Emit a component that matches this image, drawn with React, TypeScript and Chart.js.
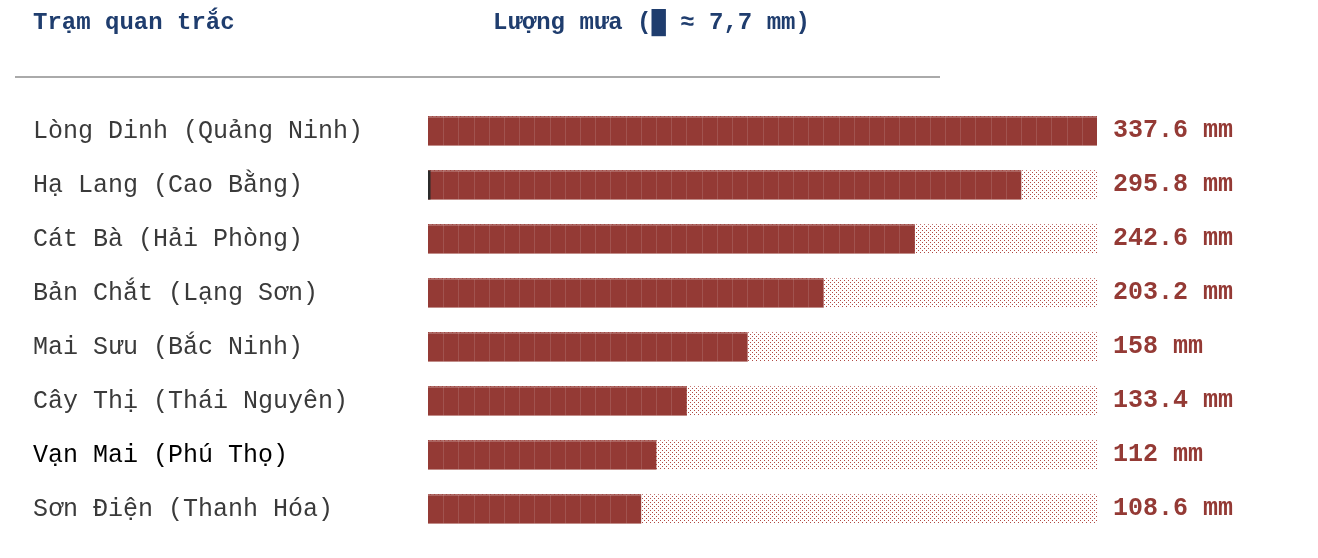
import { useEffect, useRef } from "react";
import { Chart, registerables } from "chart.js";

Chart.register(...registerables);

// ---- data ----
const stations = [
  "Lòng Dinh (Quảng Ninh)",
  "Hạ Lang (Cao Bằng)",
  "Cát Bà (Hải Phòng)",
  "Bản Chắt (Lạng Sơn)",
  "Mai Sưu (Bắc Ninh)",
  "Cây Thị (Thái Nguyên)",
  "Vạn Mai (Phú Thọ)",
  "Sơn Điện (Thanh Hóa)",
];
const rainfall = [337.6, 295.8, 242.6, 203.2, 158, 133.4, 112, 108.6];
const valueLabels = [
  "337.6 mm",
  "295.8 mm",
  "242.6 mm",
  "203.2 mm",
  "158 mm",
  "133.4 mm",
  "112 mm",
  "108.6 mm",
];
const headerLeft = "Trạm quan trắc";
const headerRight = "Lượng mưa (█ ≈ 7,7 mm)";
const blocksForMax = 44;
const highlightedStation = "Vạn Mai (Phú Thọ)";
const markedStation = "Hạ Lang (Cao Bằng)";

// ---- derived ----
const MAX = Math.max(...rainfall);
const BLOCK = MAX / blocksForMax;
const blockCounts = rainfall.map((v) => Math.round(v / BLOCK));
const quantized = blockCounts.map((n) => n * BLOCK);
const trackValues = stations.map(() => MAX);

const FONT = "'Courier New', 'Liberation Mono', monospace";
const RED = "#943a35";
const NAVY = "#1f3d6e";

export default function App() {
  const canvasRef = useRef<HTMLCanvasElement | null>(null);

  useEffect(() => {
    const canvas = canvasRef.current;
    if (!canvas) return;

    const tile = document.createElement("canvas");
    tile.width = 4;
    tile.height = 4;
    const tctx = tile.getContext("2d")!;
    tctx.fillStyle = "#ffffff";
    tctx.fillRect(0, 0, 4, 4);
    tctx.fillStyle = "#b24a44";
    tctx.fillRect(0, 0, 1, 1);
    tctx.fillRect(2, 2, 1, 1);
    const ctx0 = canvas.getContext("2d")!;
    const pattern = ctx0.createPattern(tile, "repeat")!;

    const decor = {
      id: "decor",
      afterDatasetsDraw(chart: any) {
        const ctx = chart.ctx;
        const xs = chart.scales.x;
        const meta = chart.getDatasetMeta(0);
        ctx.save();
        meta.data.forEach((el: any, i: number) => {
          const props = el.getProps(["x", "y", "base", "height"], true);
          const left = Math.min(props.base, props.x);
          const right = Math.max(props.base, props.x);
          const top = props.y - props.height / 2;
          const bottom = top + props.height;
          // block separators
          ctx.strokeStyle = "rgba(255,255,255,0.13)";
          ctx.lineWidth = 1;
          ctx.beginPath();
          for (let k = 1; k < blockCounts[i]; k++) {
            const px = Math.round(xs.getPixelForValue(k * BLOCK)) + 0.5;
            ctx.moveTo(px, top);
            ctx.lineTo(px, bottom);
          }
          ctx.stroke();
          ctx.strokeStyle = "rgba(255,255,255,0.22)";
          ctx.beginPath();
          ctx.moveTo(left, Math.round(top) + 0.5);
          ctx.lineTo(right, Math.round(top) + 0.5);
          ctx.moveTo(left, Math.round(bottom) - 0.5);
          ctx.lineTo(right, Math.round(bottom) - 0.5);
          ctx.stroke();
          // marker
          if (stations[i] === markedStation) {
            ctx.fillStyle = "#2b2b2b";
            ctx.fillRect(left, top, 2.5, props.height);
          }
          // value label
          ctx.fillStyle = RED;
          ctx.font = `bold 25px ${FONT}`;
          ctx.textAlign = "left";
          ctx.textBaseline = "middle";
          ctx.fillText(valueLabels[i], xs.right + 16, props.y);
        });
        // header
        ctx.fillStyle = NAVY;
        ctx.font = `bold 24px ${FONT}`;
        ctx.textAlign = "left";
        ctx.textBaseline = "middle";
        ctx.fillText(headerLeft, 33, 23);
        ctx.fillText(headerRight, 493, 23);
        ctx.strokeStyle = "#aaaaaa";
        ctx.lineWidth = 2;
        ctx.beginPath();
        ctx.moveTo(15, 77);
        ctx.lineTo(940, 77);
        ctx.stroke();
        ctx.restore();
      },
    };

    const chart = new Chart(canvas, {
      type: "bar",
      data: {
        labels: stations,
        datasets: [
          {
            label: "rain",
            data: quantized,
            backgroundColor: RED,
            borderWidth: 0,
            grouped: false,
            order: 0,
            barThickness: 29,
          } as any,
          {
            label: "track",
            data: trackValues,
            backgroundColor: pattern,
            borderWidth: 0,
            grouped: false,
            order: 1,
            barThickness: 29,
          } as any,
        ],
      },
      options: {
        indexAxis: "y",
        animation: false,
        responsive: true,
        maintainAspectRatio: false,
        layout: { padding: { left: 33, right: 221, top: 104, bottom: 22 } },
        plugins: {
          legend: { display: false },
          tooltip: { enabled: false },
          title: { display: false },
        },
        scales: {
          x: { display: false, min: 0, max: MAX },
          y: {
            afterFit: (scale: any) => {
              scale.width = 395;
            },
            grid: { display: false },
            border: { display: false },
            ticks: {
              crossAlign: "far",
              padding: 0,
              font: { family: FONT, size: 25 },
              color: (c: any) =>
                stations[c.index] === highlightedStation ? "#000000" : "#3a3a3a",
            },
          },
        },
      },
      plugins: [decor],
    });

    return () => chart.destroy();
  }, []);

  return (
    <div
      style={{
        position: "fixed",
        left: 0,
        top: 0,
        width: 1318,
        height: 558,
        background: "#ffffff",
      }}
    >
      <canvas ref={canvasRef} />
    </div>
  );
}
